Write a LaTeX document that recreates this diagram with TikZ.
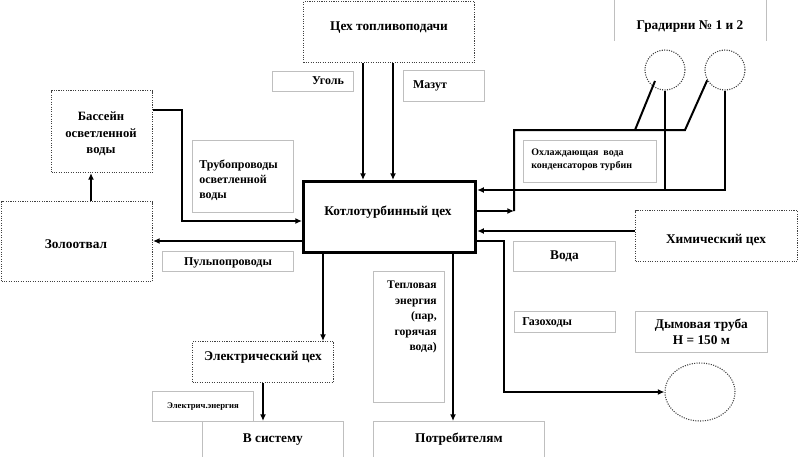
\documentclass[tikz,border=0pt]{standalone}
\usepackage{fontspec}
\setmainfont{Liberation Serif}
\usetikzlibrary{arrows.meta,calc,shapes.geometric}
\tikzset{
  wh/.style 2 args={minimum width={#1*0.75pt},minimum height={#2*0.75pt}},
  base/.style={anchor=north west,inner sep=0pt,font=\bfseries\fontsize{10}{12}\selectfont},
  shop/.style={base,draw=black!75,line width=0.8pt,densely dotted},
  lbl/.style={base,draw=black!25,line width=0.6pt,font=\bfseries\fontsize{9}{11.6}\selectfont},
  lbltxt/.style={inner sep=0pt,font=\bfseries\fontsize{9}{11.6}\selectfont},
  bigtxt/.style={inner sep=0pt,font=\bfseries\fontsize{10}{12}\selectfont},
  lblline/.style={draw=black!25,line width=0.6pt},
  mainbox/.style={base,draw=black,line width=2.4pt},
  flow/.style={line width=1.5pt,-{Latex[length=5pt,width=4.5pt]}},
  pipe/.style={line width=1.5pt},
  ring/.style={draw=black!75,line width=0.8pt,densely dotted,circle,inner sep=0pt,minimum size=30pt}
}
\begin{document}
\begin{tikzpicture}[x=0.75pt,y=-0.75pt]
\useasboundingbox (0,0) rectangle (800,457);
\fill[white] (0,0) rectangle (800,457);

% boxes
\node[shop,wh={171}{61}] (fuel) at (303,1) {};
\node[bigtxt] (fuelT) at (389,28) {Цех топливоподачи};
\node[mainbox,wh={172}{71}] (main) at (302,180) {};
\node[bigtxt] (mainT) at (388,212) {Котлотурбинный цех};
\node[lbl,wh={81}{20}] (coal) at (272,71) {};
\node[lbltxt] (coalT) at (328,81) {Уголь};
\node[lbl,wh={81}{31}] (mazut) at (403,70) {};
\node[lbltxt] (mazutT) at (430,86) {Мазут};

\node[base,wh={152}{40}] (grad) at (614,0) {};
\node[bigtxt] (gradT) at (690,27) {Градирни № 1 и 2};
\draw[lblline] (grad.north west) -- (grad.south west) (grad.north east) -- (grad.south east);
\node[ring] (c1) at (665,70) {};
\node[ring] (c2) at (725,70) {};

\node[lbl,wh={133}{42}] (cool) at (523,140) {};
\node[anchor=west,align=left,inner sep=0pt,font=\bfseries\fontsize{7.5}{10}\selectfont] (coolT) at (531,160) {Охлаждающая\ \ вода\\конденсаторов турбин};

\node[shop,wh={162}{51}] (chem) at (635,210) {};
\node[bigtxt] (chemT) at (716,240) {Химический цех};
\node[lbl,wh={102}{30},font=\bfseries\fontsize{10}{12}\selectfont] (voda) at (513,241) {Вода};
\node[lbl,wh={101}{21}] (gas) at (514,311) {};
\node[lbltxt,anchor=west] (gasT) at (522,323) {Газоходы};
\node[lbl,wh={132}{41},align=center,font=\bfseries\fontsize{10}{12.5}\selectfont] (smoke) at (635,311) {Дымовая труба\\H = 150 м};
\node[draw=black!75,line width=0.8pt,densely dotted,ellipse,inner sep=0pt,minimum width=52.5pt,minimum height=43.5pt] (chim) at (700,392) {};

\node[lbl,wh={171}{36},font=\bfseries\fontsize{10}{12}\selectfont] (cons) at (373,421) {Потребителям};
\node[lbl,wh={71}{131}] (heat) at (373,271) {};
\node[anchor=north east,align=right,inner sep=0pt,font=\bfseries\fontsize{8.7}{11.6}\selectfont] (heatT) at (437,281) {Тепловая\\энергия\\(пар,\\горячая\\вода)};

\node[shop,wh={141}{41}] (elec) at (192,341) {};
\node[bigtxt] (elecT) at (263,357) {Электрический цех};
\node[lbl,wh={141}{36},font=\bfseries\fontsize{10}{12}\selectfont] (sys) at (202,421) {В систему};
\node[lbl,wh={101}{30},font=\bfseries\fontsize{6.5}{8}\selectfont] (elabel) at (152,391) {Электрич.энергия};

\node[shop,wh={151}{80}] (zolo) at (1,201) {};
\node[bigtxt] (zoloT) at (76,244) {Золоотвал};
\node[lbl,wh={131}{20}] (pulp) at (162,251) {};
\node[lbltxt] (pulpT) at (228,263) {Пульпопроводы};
\node[shop,wh={101}{82}] (bass) at (51,90) {};
\node[align=center,inner sep=0pt,font=\bfseries\fontsize{9.5}{12.5}\selectfont] (bassT) at (101,134) {Бассейн\\осветленной\\воды};
\node[lbl,wh={101}{72}] (tube) at (192,140) {};
\node[anchor=north west,align=left,inner sep=0pt,font=\bfseries\fontsize{9}{11.3}\selectfont] (tubeT) at (199,160) {Трубопроводы\\осветленной\\воды};

% connectors
\draw[flow] (363,0 |- fuel.south) -- (363,0 |- main.north);
\draw[flow] (393,0 |- fuel.south) -- (393,0 |- main.north);

\coordinate (k1) at (514,211);
\coordinate (k2) at (514,130);
\coordinate (k3) at (635,130);
\coordinate (k4) at (685,130);
\draw[flow] (main.east |- k1) -- (k1);
\draw[pipe] (k1) -- (k2) -- (k4) -- (c2.210);
\draw[pipe] (k3) -- ($(c1.center)+(-10,11)$);

\coordinate (r1) at (665,190);
\coordinate (r2) at (725,190);
\draw[pipe] (c1.south) -- (r1);
\draw[flow] (c2.south) -- (r2) -- (main.east |- r2);

\draw[flow] (chem.west |- 0,231) -- (main.east |- 0,231);

\coordinate (g1) at (504,241);
\coordinate (g2) at (504,392);
\draw[flow] (main.east |- g1) -- (g1) -- (g2) -- (chim.west);

\draw[flow] (453,0 |- main.south) -- (453,0 |- cons.north);
\draw[flow] (323,0 |- main.south) -- (323,0 |- elec.north);
\draw[flow] (263,0 |- elec.south) -- (263,0 |- sys.north);

\draw[flow] (main.west |- 0,241) -- (zolo.east |- 0,241);
\draw[flow] (91,0 |- zolo.north) -- (91,0 |- bass.south);

\coordinate (b1) at (182,110);
\coordinate (b2) at (182,221);
\draw[flow] (bass.east |- b1) -- (b1) -- (b2) -- (main.west |- b2);
\end{tikzpicture}
\end{document}
